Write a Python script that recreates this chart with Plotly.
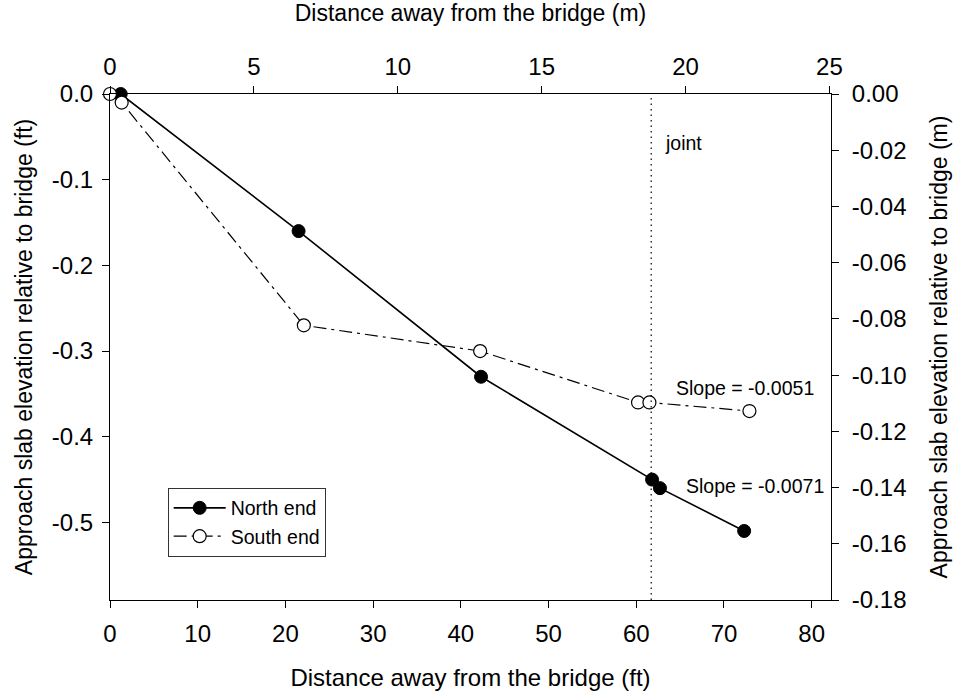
import plotly.graph_objects as go

# ---- data (distance in ft, elevation in ft) ----
north_x = [1.22, 21.5, 42.3, 61.8, 62.7, 72.3]
north_y = [0.0, -0.16, -0.33, -0.45, -0.46, -0.51]
south_x = [0.0, 1.33, 22.1, 42.2, 60.2, 61.5, 72.9]
south_y = [0.0, -0.01, -0.27, -0.30, -0.36, -0.36, -0.37]
joint_x = 61.7

FT_PER_M = 3.28084
ft_x_range = [0, 82.2]
m_y_range = [-0.18, 0.0]
m_x_range = [v / FT_PER_M for v in ft_x_range]
ft_y_range = [v * FT_PER_M for v in m_y_range]

bottom_ticks = [0, 10, 20, 30, 40, 50, 60, 70, 80]
top_ticks = [0, 5, 10, 15, 20, 25]
left_ticks = [0.0, -0.1, -0.2, -0.3, -0.4, -0.5]
left_labels = ["0.0", "-0.1", "-0.2", "-0.3", "-0.4", "-0.5"]
right_ticks = [0.0, -0.02, -0.04, -0.06, -0.08, -0.10, -0.12, -0.14, -0.16, -0.18]
right_labels = ["0.00", "-0.02", "-0.04", "-0.06", "-0.08", "-0.10",
                "-0.12", "-0.14", "-0.16", "-0.18"]

slope_south = "Slope = -0.0051"
slope_north = "Slope = -0.0071"

FONT = "Liberation Sans, Arial, sans-serif"
TICK = 24
SMALL = 19.5

fig = go.Figure()
fig.add_trace(go.Scatter(
    x=north_x, y=north_y, mode="lines+markers", name="North end",
    line=dict(color="black", width=1.6),
    marker=dict(symbol="circle", size=13, color="black",
                line=dict(color="black", width=1)),
    cliponaxis=False,
))
fig.add_trace(go.Scatter(
    x=south_x, y=south_y, mode="lines+markers", name="South end",
    line=dict(color="black", width=1.2, dash="13px,5px,3px,5px"),
    marker=dict(symbol="circle", size=13, color="white",
                line=dict(color="black", width=1.2)),
    cliponaxis=False,
))
# invisible trace so the metric (top / right) axes are drawn
fig.add_trace(go.Scatter(
    x=m_x_range, y=m_y_range, xaxis="x2", yaxis="y2", mode="markers",
    marker=dict(opacity=0), showlegend=False, hoverinfo="skip",
))

fig.add_shape(type="line", xref="x", yref="paper", x0=joint_x, x1=joint_x,
              y0=0, y1=1, line=dict(color="black", width=1.2, dash="1.5px,4px"))

fig.add_annotation(x=63.0, y=-0.057, text="joint", showarrow=False,
                   xanchor="left", yanchor="middle",
                   font=dict(size=SMALL, color="black", family=FONT))
fig.add_annotation(x=64.3, y=-0.343, text=slope_south, showarrow=False,
                   xanchor="left", yanchor="middle",
                   font=dict(size=SMALL, color="black", family=FONT))
fig.add_annotation(x=65.4, y=-0.458, text=slope_north, showarrow=False,
                   xanchor="left", yanchor="middle",
                   font=dict(size=SMALL, color="black", family=FONT))

axis_common = dict(showgrid=False, zeroline=False, showline=True,
                   linecolor="black", linewidth=1, ticks="outside",
                   ticklen=7, tickwidth=1, tickcolor="black", automargin=False,
                   tickfont=dict(size=TICK, color="black", family=FONT))

fig.update_layout(
    width=953, height=692,
    margin=dict(l=110, r=122, t=94, b=92),
    paper_bgcolor="white", plot_bgcolor="white",
    font=dict(family=FONT, color="black"),
    showlegend=True,
    legend=dict(x=0.08, y=0.222, xanchor="left", yanchor="top",
                bordercolor="#333333", borderwidth=1, bgcolor="white",
                itemwidth=52,
                font=dict(size=SMALL, color="black", family=FONT),
                tracegroupgap=0),
    xaxis=dict(range=ft_x_range, tickvals=bottom_ticks,
               ticktext=[str(v) for v in bottom_ticks],
               ticklabelstandoff=5,
               title=dict(text="Distance away from the bridge (ft)",
                          font=dict(size=24), standoff=23),
               **axis_common),
    xaxis2=dict(range=m_x_range, overlaying="x", side="top", anchor="y",
                tickvals=top_ticks, ticktext=[str(v) for v in top_ticks],
                ticklabelstandoff=1,
                title=dict(text="Distance away from the bridge (m)",
                           font=dict(size=23), standoff=25),
                **axis_common),
    yaxis=dict(range=ft_y_range, tickvals=left_ticks, ticktext=left_labels,
               ticklabelstandoff=4,
               title=dict(text="Approach slab elevation relative to bridge (ft)",
                          font=dict(size=23), standoff=12),
               **axis_common),
    yaxis2=dict(range=m_y_range, overlaying="y", side="right", anchor="x",
                tickvals=right_ticks, ticktext=right_labels,
                ticklabelstandoff=8,
                title=dict(text="Approach slab elevation relative to bridge (m)",
                           font=dict(size=23), standoff=25),
                **axis_common),
)

fig.write_html("out.html")
